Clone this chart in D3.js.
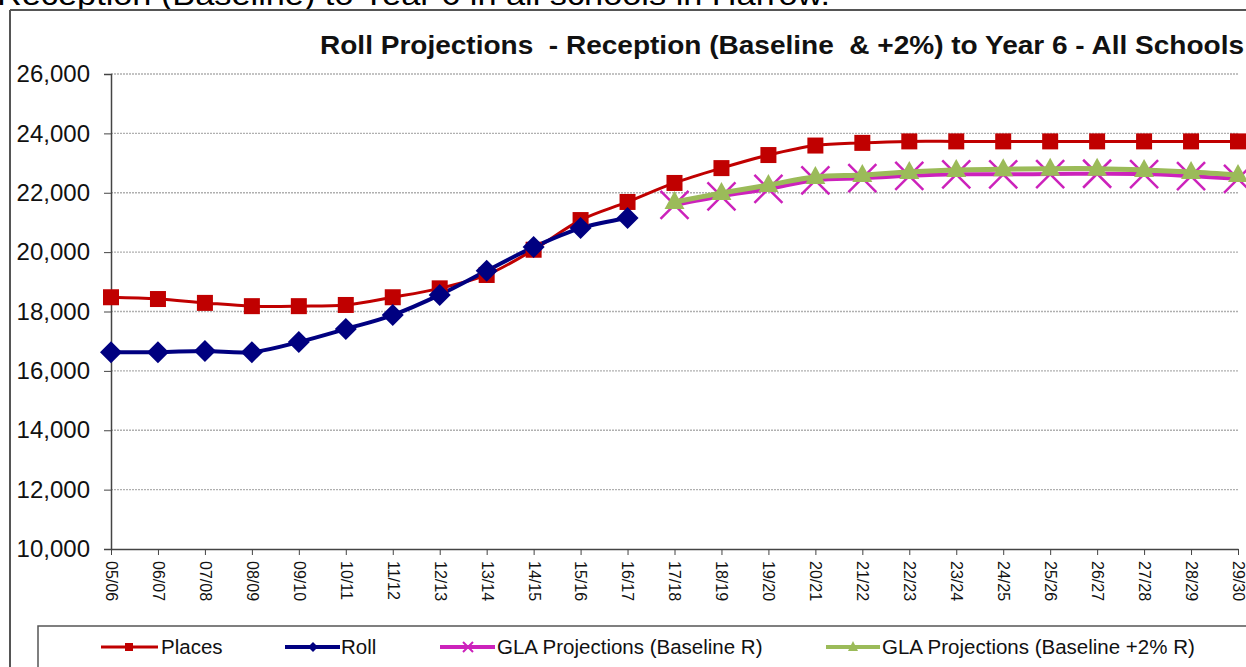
<!DOCTYPE html>
<html>
<head>
<meta charset="utf-8">
<script src="https://cdn.jsdelivr.net/npm/d3@7"></script>
<style>
body{margin:0;background:#fff;overflow:hidden;}
text{font-family:"Liberation Sans",Arial,sans-serif;}
</style>
</head>
<body>
<div id="my_dataviz"></div>
<script>
var years = ["05/06","06/07","07/08","08/09","09/10","10/11","11/12","12/13","13/14","14/15","15/16","16/17","17/18","18/19","19/20","20/21","21/22","22/23","23/24","24/25","25/26","26/27","27/28","28/29","29/30"];
var places = [18480,18420,18290,18180,18180,18220,18480,18780,19230,20080,21080,21690,22330,22830,23270,23590,23680,23730,23730,23730,23730,23730,23730,23730,23730];
var roll = [16630,16630,16670,16630,16970,17410,17880,18560,19370,20170,20810,21150];
var glaBase = [21590,21880,22130,22420,22490,22570,22620,22620,22630,22640,22630,22560,22470];
var glaPlus2 = [21690,21990,22260,22530,22600,22700,22770,22790,22810,22810,22770,22700,22600];
var yTicks = [10000,12000,14000,16000,18000,20000,22000,24000,26000];
var glaStart = 12;

var width = 1246, height = 667;
var svg = d3.select("#my_dataviz").append("svg")
    .attr("width", width)
    .attr("height", height);

var x = d3.scalePoint().domain(years).range([111, 1238]);
var y = d3.scaleLinear().domain([10000, 26000]).range([549, 74]);

// caption above the chart, cut off by the screenshot
svg.append("text")
    .attr("x", -3)
    .attr("y", 5)
    .attr("textLength", 833)
    .attr("lengthAdjust", "spacingAndGlyphs")
    .style("font-size", "30px")
    .style("fill", "#000")
    .text("Reception (Baseline) to Year 6 in all schools in Harrow.");

// chart frame
svg.append("line").attr("x1", 10).attr("y1", 10).attr("x2", width).attr("y2", 10)
    .style("stroke", "#555").style("stroke-width", 2);
svg.append("line").attr("x1", 10).attr("y1", 10).attr("x2", 10).attr("y2", height)
    .style("stroke", "#555").style("stroke-width", 2);

svg.append("text")
    .attr("x", 320)
    .attr("y", 54)
    .attr("textLength", 924)
    .attr("lengthAdjust", "spacingAndGlyphs")
    .style("font-size", "25px")
    .style("font-weight", "bold")
    .style("white-space", "pre")
    .style("fill", "#111")
    .text("Roll Projections  - Reception (Baseline  & +2%) to Year 6 - All Schools");

// gridlines
svg.append("g").selectAll("line")
    .data(yTicks.slice(1))
    .enter().append("line")
    .attr("x1", 111).attr("x2", 1238)
    .attr("y1", function(d){return y(d);})
    .attr("y2", function(d){return y(d);})
    .style("stroke", "#b0b0b0")
    .style("stroke-width", 1.3)
    .style("stroke-dasharray", "2,1");

// y axis
var yAxis = svg.append("g")
    .attr("transform", "translate(111,0)")
    .call(d3.axisLeft(y).tickValues(yTicks).tickSize(7).tickFormat(d3.format(",")));
yAxis.select(".domain").style("stroke", "#444").style("stroke-width", 1.5);
yAxis.selectAll(".tick line").style("stroke", "#444");
yAxis.selectAll("text")
    .attr("x", -21)
    .style("font-size", "24px")
    .style("fill", "#111")
    .style("font-family", "Liberation Sans, Arial, sans-serif");

// x axis
var xAxis = svg.append("g")
    .attr("transform", "translate(0,549)")
    .call(d3.axisBottom(x).tickSize(6).tickSizeOuter(0));
xAxis.select(".domain").style("stroke", "#444").style("stroke-width", 1.5);
xAxis.selectAll(".tick line").style("stroke", "#444");
xAxis.selectAll("text")
    .attr("transform", "rotate(90)")
    .attr("x", 12)
    .attr("y", 0)
    .attr("dy", "0.35em")
    .style("text-anchor", "start")
    .style("font-size", "16px")
    .style("fill", "#111")
    .style("font-family", "Liberation Sans, Arial, sans-serif");

var curve = d3.curveCatmullRom.alpha(0.5);

function lineFor(offset){
    return d3.line()
        .x(function(d, i){return x(years[i + offset]);})
        .y(function(d){return y(d);})
        .curve(curve);
}

// series lines
svg.append("path").datum(places)
    .attr("d", lineFor(0))
    .style("fill", "none").style("stroke", "#c00000").style("stroke-width", 3);
svg.append("path").datum(roll)
    .attr("d", lineFor(0))
    .style("fill", "none").style("stroke", "#000080").style("stroke-width", 4);
svg.append("path").datum(glaBase)
    .attr("d", lineFor(glaStart))
    .style("fill", "none").style("stroke", "#cc22bb").style("stroke-width", 4);

// X markers for GLA baseline
svg.append("g").selectAll("path")
    .data(glaBase)
    .enter().append("path")
    .attr("transform", function(d, i){return "translate(" + x(years[i + glaStart]) + "," + y(d) + ")";})
    .attr("d", "M-14,-14L14,14M-14,14L14,-14")
    .style("stroke", "#cc22bb")
    .style("stroke-width", 2.5);

svg.append("path").datum(glaPlus2)
    .attr("d", lineFor(glaStart))
    .style("fill", "none").style("stroke", "#9bbb59").style("stroke-width", 5);

// squares for places
svg.append("g").selectAll("rect")
    .data(places)
    .enter().append("rect")
    .attr("x", function(d, i){return x(years[i]) - 8;})
    .attr("y", function(d){return y(d) - 8;})
    .attr("width", 16).attr("height", 16)
    .style("fill", "#c00000");

// diamonds for roll
svg.append("g").selectAll("path")
    .data(roll)
    .enter().append("path")
    .attr("transform", function(d, i){return "translate(" + x(years[i]) + "," + y(d) + ")";})
    .attr("d", "M0,-11L11,0L0,11L-11,0Z")
    .style("fill", "#000080");

// triangles for +2%
svg.append("g").selectAll("path")
    .data(glaPlus2)
    .enter().append("path")
    .attr("transform", function(d, i){return "translate(" + x(years[i + glaStart]) + "," + y(d) + ")";})
    .attr("d", "M0,-11L10,7L-10,7Z")
    .style("fill", "#9bbb59");

// legend
svg.append("rect")
    .attr("x", 38).attr("y", 626)
    .attr("width", 1240).attr("height", 80)
    .style("fill", "none").style("stroke", "#555").style("stroke-width", 1.5);

var legendItems = [
    {name:"Places", color:"#c00000", x1:101, x2:158, tx:161, w:3},
    {name:"Roll", color:"#000080", x1:285, x2:340, tx:341, w:4},
    {name:"GLA Projections (Baseline R)", color:"#cc22bb", x1:440, x2:495, tx:497, w:4},
    {name:"GLA Projections (Baseline +2% R)", color:"#9bbb59", x1:826, x2:880, tx:882, w:4}
];
var leg = svg.append("g").selectAll("g")
    .data(legendItems)
    .enter().append("g");
leg.append("line")
    .attr("x1", function(d){return d.x1;})
    .attr("x2", function(d){return d.x2;})
    .attr("y1", 647).attr("y2", 647)
    .style("stroke", function(d){return d.color;})
    .style("stroke-width", function(d){return d.w;});
leg.append("text")
    .attr("x", function(d){return d.tx;})
    .attr("y", 654)
    .style("font-size", "20.5px")
    .style("fill", "#111")
    .text(function(d){return d.name;});
// small legend markers
svg.append("rect").attr("x", 125).attr("y", 643).attr("width", 8).attr("height", 8).style("fill", "#c00000");
svg.append("path").attr("transform", "translate(313,647)").attr("d", "M0,-5L5,0L0,5L-5,0Z").style("fill", "#000080");
svg.append("path").attr("transform", "translate(468,647)").attr("d", "M-5,-5L5,5M-5,5L5,-5").style("stroke", "#cc22bb").style("stroke-width", 2);
svg.append("path").attr("transform", "translate(853,647)").attr("d", "M0,-6L5,4L-5,4Z").style("fill", "#9bbb59");
</script>
</body>
</html>
